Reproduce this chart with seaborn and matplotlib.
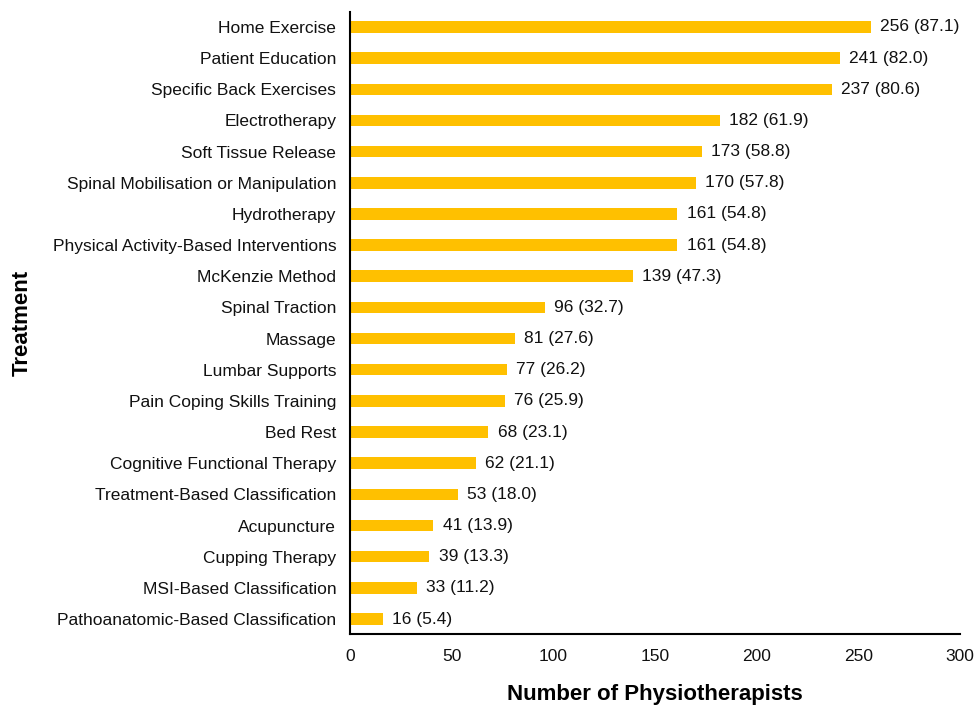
import matplotlib
matplotlib.use("Agg")
import matplotlib.pyplot as plt
import seaborn as sns
import pandas as pd

treatments = [
    "Home Exercise", "Patient Education", "Specific Back Exercises", "Electrotherapy",
    "Soft Tissue Release", "Spinal Mobilisation or Manipulation", "Hydrotherapy",
    "Physical Activity-Based Interventions", "McKenzie Method", "Spinal Traction",
    "Massage", "Lumbar Supports", "Pain Coping Skills Training", "Bed Rest",
    "Cognitive Functional Therapy", "Treatment-Based Classification", "Acupuncture",
    "Cupping Therapy", "MSI-Based Classification", "Pathoanatomic-Based Classification",
]
counts = [256, 241, 237, 182, 173, 170, 161, 161, 139, 96, 81, 77, 76, 68, 62, 53, 41, 39, 33, 16]
percents = [87.1, 82.0, 80.6, 61.9, 58.8, 57.8, 54.8, 54.8, 47.3, 32.7, 27.6, 26.2, 25.9, 23.1, 21.1, 18.0, 13.9, 13.3, 11.2, 5.4]
x_ticks = [0, 50, 100, 150, 200, 250, 300]

sns.set_theme(style="white")
plt.rcParams['font.family'] = ['Liberation Sans', 'DejaVu Sans']

df = pd.DataFrame({"Treatment": treatments, "Count": counts})

fig = plt.figure(figsize=(9.78, 7.07), dpi=100)
ax = fig.add_axes([0.358, 0.1033, 0.6236, 0.8797])
sns.barplot(data=df, y="Treatment", x="Count", color="#FFC000", saturation=1,
            width=0.37, linewidth=0, ax=ax, orient="h")

for i, (c, p) in enumerate(zip(counts, percents)):
    ax.text(c + 4.5, i, f"{c} ({p:.1f})", va="center", ha="left", fontsize=12.5, color="#111111")

ax.set_xlim(0, 300)
ax.set_ylim(len(treatments) - 0.52, -0.48)
ax.set_xticks(x_ticks)
ax.set_xticklabels([str(t) for t in x_ticks], fontsize=12.5, color="#111111")
ax.tick_params(axis="y", labelsize=12.5, labelcolor="#111111", length=0, pad=10)
ax.tick_params(axis="x", length=0, pad=11)
for s in ["top", "right"]:
    ax.spines[s].set_visible(False)
for s in ["left", "bottom"]:
    ax.spines[s].set_color("black")
    ax.spines[s].set_linewidth(1.5)

ax.set_xlabel("Number of Physiotherapists", fontsize=16, fontweight="bold", color="black", va="center")
ax.xaxis.set_label_coords(0.5, -0.098)
ax.set_ylabel("Treatment", fontsize=16, fontweight="bold", color="black", va="center")
ax.yaxis.set_label_coords(-0.538, 0.5)

fig.savefig("out.png", dpi=100)
